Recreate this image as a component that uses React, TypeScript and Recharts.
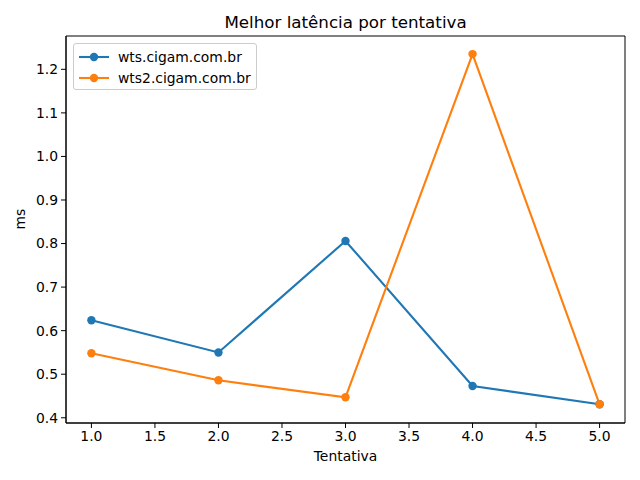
import React from "react";
import {
  LineChart,
  Line,
  XAxis,
  YAxis,
  ReferenceArea,
} from "recharts";

const tentativas = [1, 2, 3, 4, 5];
const wts = [0.624, 0.55, 0.806, 0.473, 0.431];
const wts2 = [0.548, 0.486, 0.447, 1.235, 0.431];
const xTicks = [1, 1.5, 2, 2.5, 3, 3.5, 4, 4.5, 5];
const yTicks = [0.4, 0.5, 0.6, 0.7, 0.8, 0.9, 1.0, 1.1, 1.2];

const series = [
  { key: "wts", name: "wts.cigam.com.br", color: "#1f77b4" },
  { key: "wts2", name: "wts2.cigam.com.br", color: "#ff7f0e" },
];

const data = tentativas.map((t, i) => ({ t, wts: wts[i], wts2: wts2[i] }));

const FONT = "'DejaVu Sans', sans-serif";
const X_DOMAIN: [number, number] = [0.8, 5.2];
const Y_DOMAIN: [number, number] = [0.388, 1.2765];

// matplotlib-like legend box, top-left inside the axes
function LegendBox() {
  return (
    <div
      style={{
        position: "absolute",
        left: 73,
        top: 43,
        boxSizing: "border-box",
        width: 184,
        height: 47,
        border: "1px solid #cccccc",
        borderRadius: 3,
        background: "rgba(255,255,255,0.8)",
        padding: "2px 0 0 5px",
        fontFamily: FONT,
        fontSize: 13.9,
        color: "#000",
      }}
    >
      {series.map((s) => (
        <div
          key={s.key}
          style={{ display: "flex", alignItems: "center", height: 21 }}
        >
          <svg width={30} height={12} style={{ marginRight: 9 }}>
            <line x1={0} y1={6} x2={30} y2={6} stroke={s.color} strokeWidth={2.1} />
            <circle cx={15} cy={6} r={4.2} fill={s.color} />
          </svg>
          <span>{s.name}</span>
        </div>
      ))}
    </div>
  );
}

export default function App() {
  return (
    <div
      style={{
        position: "absolute",
        left: 0,
        top: 0,
        width: 640,
        height: 480,
        background: "#fff",
        fontFamily: FONT,
      }}
    >
      <div
        style={{
          position: "absolute",
          left: 66,
          width: 559,
          top: 12,
          textAlign: "center",
          fontSize: 16.7,
          lineHeight: "20px",
          color: "#000",
        }}
      >
        Melhor latência por tentativa
      </div>
      <LineChart
        width={640}
        height={480}
        data={data}
        margin={{ top: 36, right: 15, left: 0, bottom: 0 }}
        style={{ fontFamily: FONT }}
      >
        <XAxis
          dataKey="t"
          type="number"
          domain={X_DOMAIN}
          ticks={xTicks}
          allowDataOverflow
          tickFormatter={(v: number) => v.toFixed(1)}
          height={57}
          tickSize={5}
          tickMargin={3}
          stroke="#000"
          tick={{ fill: "#000", fontSize: 13.9 }}
          label={{
            value: "Tentativa",
            position: "insideBottom",
            offset: 19,
            fill: "#000",
            fontSize: 13.9,
          }}
        />
        <YAxis
          type="number"
          domain={Y_DOMAIN}
          ticks={yTicks}
          allowDataOverflow
          tickFormatter={(v: number) => v.toFixed(1)}
          width={66}
          tickSize={5}
          tickMargin={3}
          stroke="#000"
          tick={{ fill: "#000", fontSize: 13.9 }}
          label={{
            value: "ms",
            angle: -90,
            position: "insideLeft",
            offset: 20,
            fill: "#000",
            fontSize: 13.9,
          }}
        />
        <ReferenceArea
          x1={X_DOMAIN[0]}
          x2={X_DOMAIN[1]}
          y1={Y_DOMAIN[0]}
          y2={Y_DOMAIN[1]}
          fill="none"
          stroke="#000"
          strokeWidth={1}
          ifOverflow="visible"
        />
        {series.map((s) => (
          <Line
            key={s.key}
            dataKey={s.key}
            name={s.name}
            type="linear"
            stroke={s.color}
            strokeWidth={2.1}
            dot={{ r: 4.2, fill: s.color, stroke: s.color, strokeWidth: 0 }}
            activeDot={false}
            isAnimationActive={false}
          />
        ))}
      </LineChart>
      <LegendBox />
    </div>
  );
}
